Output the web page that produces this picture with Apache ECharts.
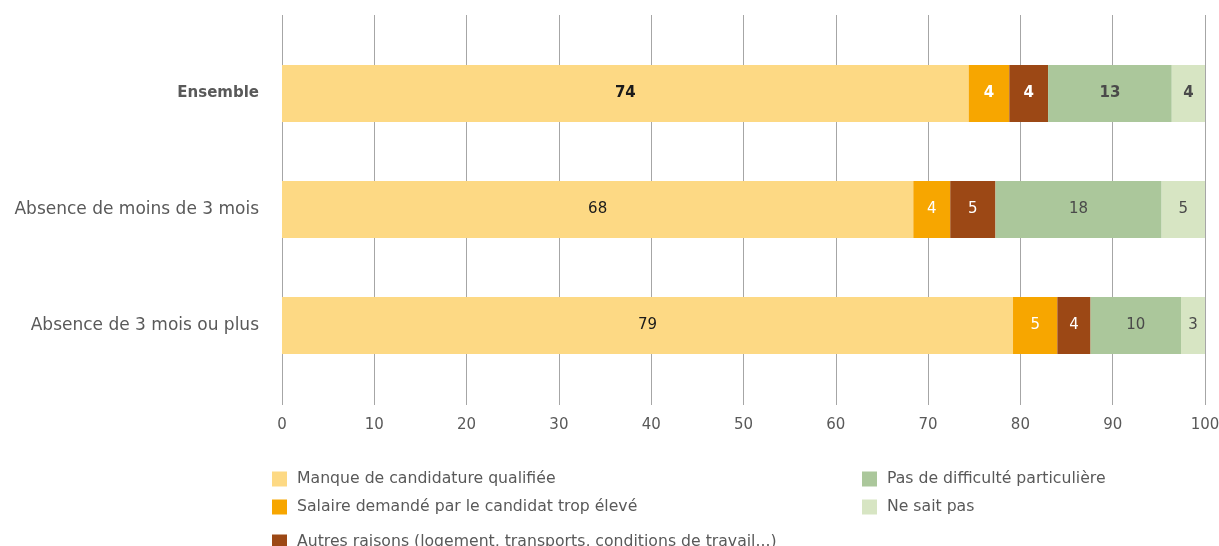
<!DOCTYPE html>
<html><head><meta charset="utf-8">
<script src="https://cdn.jsdelivr.net/npm/echarts@6/dist/echarts.min.js"></script>
<style>html,body{margin:0;padding:0;background:#fff}#c{width:1219px;height:546px}</style>
</head><body><div id="c"></div>
<script>
const categories = ['Ensemble', 'Absence de moins de 3 mois', 'Absence de 3 mois ou plus'];
const seriesNames = [
  'Manque de candidature qualifiée',
  'Salaire demandé par le candidat trop élevé',
  'Autres raisons (logement, transports, conditions de travail...)',
  'Pas de difficulté particulière',
  'Ne sait pas'
];
const manque = [74.4, 68.4, 79.2];
const salaire = [4.4, 4.0, 4.8];
const autres = [4.2, 4.9, 3.6];
const pasDiff = [13.4, 18.0, 9.8];
const neSaitPas = [3.6, 4.7, 2.6];
const xTicks = [0, 10, 20, 30, 40, 50, 60, 70, 80, 90, 100];

const values = [manque, salaire, autres, pasDiff, neSaitPas];
const colors = ['#FDD984', '#F7A600', '#9C4815', '#ABC79B', '#D7E5C3'];
const labelColors = ['#1a1a1a', '#ffffff', '#ffffff', '#4a4a4a', '#4a4a4a'];
const FONT = 'DejaVu Sans';

const series = values.map((arr, si) => ({
  name: seriesNames[si],
  type: 'bar',
  stack: 'total',
  xAxisIndex: 1,
  yAxisIndex: 1,
  barWidth: 57,
  itemStyle: { color: colors[si] },
  label: {
    show: true,
    position: 'inside',
    color: labelColors[si],
    fontFamily: FONT,
    fontSize: 15,
    formatter: p => String(Math.round(p.value))
  },
  data: arr.map((v, i) => i === 0
    ? { value: v, label: { fontWeight: 'bold' } }
    : v)
}));

// legend positions: [left, top]
const legendPos = [[272, 471], [272, 499], [272, 534], [862, 471], [862, 499]];
const legends = seriesNames.map((n, i) => ({
  data: [n], orient: 'horizontal', left: legendPos[i][0], top: legendPos[i][1],
  padding: 0, itemWidth: 15, itemHeight: 15, icon: 'rect',
  textStyle: { color: '#595959', fontSize: 15.7, fontFamily: FONT, padding: [0, 0, 0, 5] }
}));

const chart = echarts.init(document.getElementById('c'));
chart.setOption({
  animation: false,
  textStyle: { fontFamily: FONT },
  grid: [
    { left: 282, right: 14, top: 15, bottom: 141, containLabel: false, outerBoundsMode: 'none' },
    { left: 282, right: 14, top: 35.5, height: 348, containLabel: false, outerBoundsMode: 'none' }
  ],
  xAxis: [
    {
      gridIndex: 0, type: 'value', min: 0, max: 100, interval: 10,
      axisLine: { show: false }, axisTick: { show: false },
      splitLine: { show: true, lineStyle: { color: '#A6A6A6', width: 1 } },
      axisLabel: {
        color: '#595959', fontSize: 15, fontFamily: FONT, margin: 13,
        formatter: v => xTicks.includes(v) ? String(v) : ''
      }
    },
    { gridIndex: 1, type: 'value', min: 0, max: 100, show: false }
  ],
  yAxis: [
    { gridIndex: 0, type: 'value', min: 0, max: 1, show: false },
    {
      gridIndex: 1, type: 'category', data: categories, inverse: true,
      axisLine: { show: false }, axisTick: { show: false },
      axisLabel: {
        margin: 23, color: '#595959', fontSize: 17, fontFamily: FONT,
        formatter: (v, i) => i === 0 ? '{b|' + v + '}' : v,
        rich: { b: { fontWeight: 'bold', color: '#595959', fontSize: 15, fontFamily: FONT } }
      }
    }
  ],
  legend: legends,
  series: series
});
</script></body></html>
